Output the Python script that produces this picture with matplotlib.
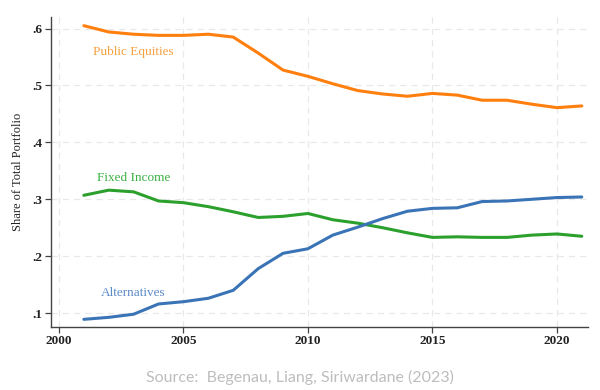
import matplotlib
matplotlib.use('Agg')
import matplotlib.pyplot as plt

years = list(range(2001, 2022))

public_equities = [0.605, 0.594, 0.590, 0.588, 0.588, 0.590, 0.585, 0.557, 0.527, 0.516,
                   0.503, 0.491, 0.485, 0.481, 0.486, 0.483, 0.474, 0.474, 0.467, 0.461, 0.464]
fixed_income = [0.307, 0.316, 0.313, 0.297, 0.294, 0.287, 0.278, 0.268, 0.270, 0.275,
                0.264, 0.258, 0.250, 0.241, 0.233, 0.234, 0.233, 0.233, 0.237, 0.239, 0.235]
alternatives = [0.089, 0.0925, 0.098, 0.116, 0.120, 0.126, 0.140, 0.178, 0.205, 0.213,
                0.237, 0.251, 0.266, 0.279, 0.284, 0.285, 0.296, 0.297, 0.300, 0.303, 0.304]

x_ticks = [2000, 2005, 2010, 2015, 2020]
y_ticks = [0.1, 0.2, 0.3, 0.4, 0.5, 0.6]
y_tick_labels = ['.1', '.2', '.3', '.4', '.5', '.6']

serif = 'Liberation Serif'

fig = plt.figure(figsize=(6, 3.9), dpi=100)
ax = fig.add_axes([0.085, 0.1615, 0.895, 0.7945])

# series: (values, line colour, label text colour, label position)
series = [
    (public_equities, '#ff7f0e', '#f7a040', 'Public Equities', (2003, 0.549)),
    (fixed_income, '#2ca02c', '#3cb043', 'Fixed Income', (2003, 0.327)),
    (alternatives, '#3a74b6', '#5b8ac8', 'Alternatives', (2003, 0.125)),
]
for vals, col, tcol, name, pos in series:
    ax.plot(years, vals, color=col, lw=2.2, solid_capstyle='round')
    ax.text(pos[0], pos[1], name, color=tcol, fontsize=9.5, family=serif,
            ha='center', va='bottom')

ax.set_xlim(1999.68, 2021.25)
ax.set_ylim(0.0755, 0.62)
ax.set_xticks(x_ticks)
ax.set_yticks(y_ticks)
ax.set_yticklabels(y_tick_labels)
ax.grid(True, color='#e8e8e8', ls=(0, (5, 4)), lw=0.9)
ax.set_axisbelow(True)

for s in ['top', 'right']:
    ax.spines[s].set_visible(False)
for s in ['left', 'bottom']:
    ax.spines[s].set_color('#444444')
    ax.spines[s].set_linewidth(1.0)

ax.tick_params(direction='out', length=4, width=0.9, color='#444444', pad=2)
for lab in ax.get_xticklabels() + ax.get_yticklabels():
    lab.set_family(serif)
    lab.set_fontsize(9.5)
    lab.set_color('#222222')
    lab.set_fontweight('semibold')

ax.set_ylabel('Share of Total Portfolio', family=serif, fontsize=9, color='#222222', labelpad=6)

fig.text(0.5, 0.031, 'Source:  Begenau, Liang, Siriwardane (2023)', ha='center', va='center',
         fontsize=11.5, color='#bdbdbd', family='Lato')

fig.savefig('out.png', dpi=100)
